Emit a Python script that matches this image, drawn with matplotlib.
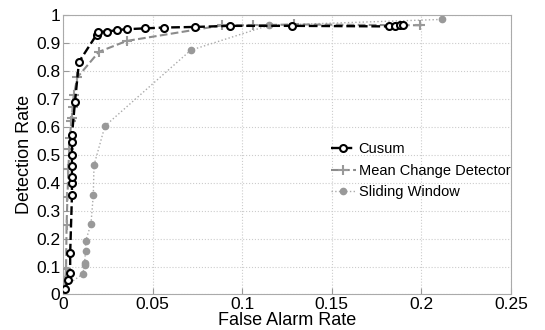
import numpy as np
import matplotlib
matplotlib.use("Agg")
import matplotlib.pyplot as plt

plt.rcParams['font.family'] = ['Liberation Sans', 'DejaVu Sans']

# Cusum
cusum_far = [0.001, 0.003, 0.004, 0.004, 0.005, 0.005, 0.005, 0.005, 0.005, 0.005, 0.005,
             0.0067, 0.0089, 0.0188, 0.0193, 0.0243, 0.030, 0.0355, 0.0457, 0.0565, 0.0735,
             0.093, 0.128, 0.182, 0.1855, 0.188, 0.190]
cusum_dr = [0.019, 0.052, 0.078, 0.147, 0.355, 0.40, 0.42, 0.46, 0.50, 0.546, 0.57,
            0.689, 0.831, 0.929, 0.939, 0.939, 0.945, 0.948, 0.951, 0.954, 0.956,
            0.96, 0.96, 0.958, 0.96, 0.962, 0.962]

# Mean Change Detector
mcd_far = [0.0007, 0.0012, 0.0017, 0.002, 0.0025, 0.003, 0.0035, 0.004, 0.0045, 0.005,
           0.0054, 0.006, 0.008, 0.020, 0.0355, 0.089, 0.106, 0.129, 0.199]
mcd_dr = [0.02, 0.05, 0.09, 0.25, 0.35, 0.45, 0.52, 0.56, 0.62, 0.63,
          0.67, 0.712, 0.776, 0.867, 0.906, 0.962, 0.962, 0.965, 0.962]

# Sliding Window
sw_far = [0.0006, 0.011, 0.012, 0.012, 0.0126, 0.0126, 0.0156, 0.0169, 0.0173,
          0.0234, 0.0713, 0.115, 0.2115]
sw_dr = [0.026, 0.073, 0.105, 0.112, 0.157, 0.19, 0.252, 0.355, 0.462,
         0.602, 0.873, 0.962, 0.983]

fig = plt.figure(figsize=(5.45, 3.3), dpi=100)
ax = fig.add_axes([0.1156, 0.1076, 0.822, 0.848])

ax.plot(sw_far, sw_dr, linestyle=':', color='#aaaaaa', linewidth=1.0,
        marker='o', markersize=4.5, markerfacecolor='#999999', markeredgecolor='#999999',
        label='Sliding Window', zorder=2)
ax.plot(mcd_far, mcd_dr, linestyle='--', color='#8c8c8c', linewidth=1.5,
        marker='+', markersize=7, markeredgewidth=1.5, markeredgecolor='#999999',
        label='Mean Change Detector', zorder=3)
ax.plot(cusum_far, cusum_dr, linestyle='--', color='black', linewidth=1.7,
        marker='o', markersize=5, markerfacecolor='white', markeredgecolor='black',
        markeredgewidth=1.5, label='Cusum', zorder=4)

ax.set_xlim(0, 0.25)
ax.set_ylim(0, 1)
ax.set_xticks([0, 0.05, 0.1, 0.15, 0.2, 0.25])
ax.set_xticklabels(['0', '0.05', '0.1', '0.15', '0.2', '0.25'])
ax.set_yticks(np.arange(0, 1.01, 0.1))
ax.set_yticklabels(['0', '0.1', '0.2', '0.3', '0.4', '0.5', '0.6', '0.7', '0.8', '0.9', '1'])
ax.tick_params(direction='in', length=4, color='#999999', labelsize=12.5, pad=2)
ax.grid(True, linestyle=':', color='#cccccc', linewidth=0.8)
for s in ax.spines.values():
    s.set_color('#aaaaaa')

ax.set_xlabel('False Alarm Rate', fontsize=13, labelpad=0)
ax.set_ylabel('Detection Rate', fontsize=13, labelpad=2)

handles, labels = ax.get_legend_handles_labels()
ax.legend(handles[::-1], labels[::-1], loc='upper left', bbox_to_anchor=(0.575, 0.58),
          frameon=False, fontsize=10.5, handlelength=1.7, handletextpad=0.2,
          labelspacing=0.5, borderpad=0.2)

fig.savefig('out.png', dpi=100)
